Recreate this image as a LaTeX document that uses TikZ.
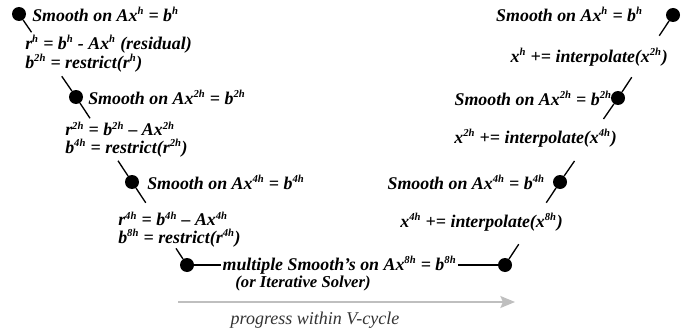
\documentclass[tikz,border=0pt]{standalone}
\usepackage{fontspec}
\setmainfont{Liberation Serif}
\usetikzlibrary{arrows.meta,calc}
\newcommand\pw[1]{\textsuperscript{\fontsize{8}{8}\selectfont #1}}

\begin{document}
\begin{tikzpicture}[x=0.75pt,y=-0.75pt,
  dot/.style={circle,fill,inner sep=0,minimum size=10.5pt},
  lab/.style={inner sep=0,font=\bfseries\itshape\fontsize{13.4}{13.2}\selectfont,align=left},
  stub/.style={line width=1pt}]
\useasboundingbox (0,0) rectangle (699,335);
\node[dot] (l1) at (19,14) {};
\node[dot] (l2) at (76,97) {};
\node[dot] (l3) at (132,182) {};
\node[dot] (l4) at (187,265) {};
\node[dot] (r4) at (505,265) {};
\node[dot] (r3) at (560,182) {};
\node[dot] (r2) at (618,98) {};
\node[dot] (r1) at (673,15) {};
\coordinate (l1b) at ($(l1)!.22!(l2)$);
\coordinate (l2a) at ($(l2)!.25!(l1)$);
\coordinate (l2b) at ($(l2)!.25!(l3)$);
\coordinate (l3a) at ($(l3)!.25!(l2)$);
\coordinate (l3b) at ($(l3)!.25!(l4)$);
\coordinate (l4a) at ($(l4)!.2!(l3)$);
\coordinate (r4a) at ($(r4)!.25!(r3)$);
\coordinate (r3b) at ($(r3)!.25!(r4)$);
\coordinate (r3a) at ($(r3)!.25!(r2)$);
\coordinate (r2b) at ($(r2)!.25!(r3)$);
\coordinate (r2a) at ($(r2)!.25!(r1)$);
\coordinate (r1b) at ($(r1)!.25!(r2)$);
\foreach \a/\b in {l1/l1b,l2/l2a,l2/l2b,l3/l3a,l3/l3b,l4/l4a,r4/r4a,r3/r3b,r3/r3a,r2/r2b,r2/r2a,r1/r1b}
  \draw[stub] (\a) -- (\b);
\node[lab,anchor=west] (s1) at (32,14) {Smooth on Ax\pw{h} = b\pw{h}};
\node[lab,anchor=west] (res1) at (25,53.5) {r\pw{h} = b\pw{h} - Ax\pw{h} (residual)\\b\pw{2h} = restrict(r\pw{h})};
\node[lab,anchor=west] (s2) at (88,97) {Smooth on Ax\pw{2h} = b\pw{2h}};
\node[lab,anchor=west] (res2) at (65,139.5) {r\pw{2h} = b\pw{2h} – Ax\pw{2h}\\b\pw{4h} = restrict(r\pw{2h})};
\node[lab,anchor=west] (s3) at (147,182) {Smooth on Ax\pw{4h} = b\pw{4h}};
\node[lab,anchor=west] (res3) at (118,229.5) {r\pw{4h} = b\pw{4h} – Ax\pw{4h}\\b\pw{8h} = restrict(r\pw{4h})};
\node[lab,anchor=west,inner xsep=1pt] (s4) at (221,265) {multiple Smooth’s on Ax\pw{8h} = b\pw{8h}};
\node[lab,font=\bfseries\itshape\fontsize{12.5}{14}\selectfont] (solver) at (303,283) {(or Iterative Solver)};
\draw[stub] (l4) -- (s4);
\draw[stub] (s4) -- (r4);
\node[lab,anchor=east] (t1) at (643,14) {Smooth on Ax\pw{h} = b\pw{h}};
\node[lab,anchor=east] (i1) at (668,57) {x\pw{h} += interpolate(x\pw{2h})};
\node[lab,anchor=east] (t2) at (612,98) {Smooth on Ax\pw{2h} = b\pw{2h}};
\node[lab,anchor=east] (i2) at (617,138) {x\pw{2h} += interpolate(x\pw{4h})};
\node[lab,anchor=east] (t3) at (545,182) {Smooth on Ax\pw{4h} = b\pw{4h}};
\node[lab,anchor=east] (i3) at (563,222) {x\pw{4h} += interpolate(x\pw{8h})};
\coordinate (pstart) at (178,302);
\coordinate (pend) at (515,302);
\draw[line width=1.2pt,color=black!25,-{Stealth[length=11pt,width=9pt,inset=2pt]}] (pstart) -- (pend);
\node[inner sep=0,font=\itshape\fontsize{13.5}{15}\selectfont,text=black!80] (prog) at (315,320) {progress within V-cycle};
\end{tikzpicture}
\end{document}
